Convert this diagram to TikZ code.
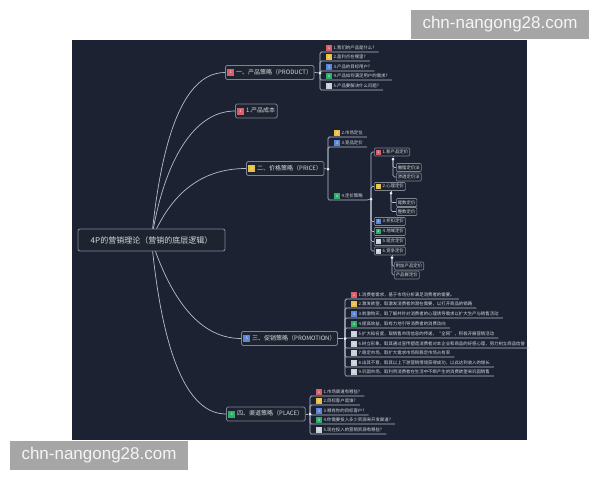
\documentclass[tikz,border=0pt]{standalone}
\usepackage{fontspec}
\setmainfont{Noto Sans CJK SC}
\newfontfamily\wmfont{Liberation Sans}
\usetikzlibrary{backgrounds}
\definecolor{bgc}{HTML}{1C2232}
\definecolor{nodefill}{HTML}{1E2330}
\definecolor{bord}{HTML}{7C8494}
\definecolor{linec}{HTML}{B4BFCE}
\definecolor{txt}{HTML}{D6D9DE}
\definecolor{icr}{HTML}{D9606A}
\definecolor{icy}{HTML}{E8C14A}
\definecolor{icb}{HTML}{5C86D6}
\definecolor{icg}{HTML}{2FB06A}
\definecolor{icw}{HTML}{C9D2DA}
\definecolor{wmgrey}{HTML}{A6A6A6}
\newcommand\ico[3]{{\setlength{\fboxsep}{0pt}\colorbox{#2}{\parbox[c][#1][c]{#1}{\centering\fontsize{3.4}{3.4}\selectfont\color{white}#3}}}\hspace{1.8pt}}
\tikzset{
  conn/.style={draw=linec, line width=0.7pt},
  rootbox/.style={draw=bord, fill=nodefill, rounded corners=2pt, line width=0.9pt, text=txt, font=\fontsize{8}{9}\selectfont, minimum width=147pt, minimum height=22pt, inner xsep=4pt},
  branchbox/.style={draw=bord, fill=nodefill, rounded corners=1.5pt, line width=0.8pt, text=txt, font=\fontsize{6}{7}\selectfont, minimum height=14pt, inner xsep=2pt, inner ysep=1pt, anchor=west},
  subbox/.style={draw=bord, fill=nodefill, rounded corners=1pt, line width=0.6pt, text=txt, font=\fontsize{4.4}{5}\selectfont, minimum height=8pt, inner xsep=1.5pt, inner ysep=0.8pt, anchor=west},
  leaf/.style={text=txt, font=\fontsize{4.4}{5}\selectfont, inner xsep=4pt, inner ysep=1.2pt, anchor=south west},
  knot/.style={circle, fill=white!85!linec, inner sep=0pt, minimum size=3pt},
  wm/.style={fill=wmgrey, text=white!96!black, font=\wmfont\fontsize{17}{17}\selectfont, minimum width=178pt, minimum height=29pt, inner sep=0pt},
  ub/.style={conn, rounded corners=1.5pt}
}
\begin{document}
\begin{tikzpicture}[x=1pt, y=-1pt]
\useasboundingbox (0,0) rectangle (600,480);
% ---------- nodes ----------
\node[rootbox] (root) at (151.5,240) {4P的营销理论（营销的底层逻辑）};
\node[branchbox] (b1) at (225,72.5) {\ico{7pt}{icr}{1}一、产品策略（PRODUCT）};
\node[branchbox] (bc) at (235,111) {\ico{7pt}{icr}{1}1.产品成本};
\node[branchbox] (b2) at (246,168.5) {\ico{7pt}{icy}{2}二、价格策略（PRICE）};
\node[branchbox] (b3) at (241,338.5) {\ico{7pt}{icb}{3}三、促销策略（PROMOTION）};
\node[branchbox] (b4) at (226,414) {\ico{7pt}{icg}{4}四、渠道策略（PLACE）};
% product leaves
\node[knot] (k1) at (320,73) {};
\node[leaf] (p1) at (322,52) {\ico{5.5pt}{icr}{1}1.我们的产品是什么?};
\node[leaf] (p2) at (322,61) {\ico{5.5pt}{icy}{2}2.盈利点在哪里?};
\node[leaf] (p3) at (322,71) {\ico{5.5pt}{icb}{3}3.产品的目标用户?};
\node[leaf] (p4) at (322,80) {\ico{5.5pt}{icg}{4}4.产品如何满足用户的需求?};
\node[leaf] (p5) at (322,90) {\ico{5.5pt}{icw}{5}5.产品要解决什么问题?};
% price leaves
\node[knot] (k2) at (328,169) {};
\node[leaf] (q2) at (330,137) {\ico{5.5pt}{icy}{2}2.市场定位};
\node[leaf] (q3) at (330,147) {\ico{5.5pt}{icb}{3}3.竞品定价};
\node[leaf] (q4) at (330,200) {\ico{5.5pt}{icg}{4}4.定价策略};
\node[knot] (k3) at (371,199) {};
\node[subbox] (s1) at (374,152) {\ico{5pt}{icr}{1}1.新产品定价};
\node[subbox] (s2) at (374,186.5) {\ico{5pt}{icy}{2}2.心理定价};
\node[subbox] (s3) at (374,221.5) {\ico{5pt}{icb}{3}3.折扣定价};
\node[subbox] (s4) at (374,231.5) {\ico{5pt}{icg}{4}4.地域定价};
\node[subbox] (s5) at (374,241.5) {\ico{5pt}{icw}{5}5.组合定价};
\node[subbox] (s6) at (374,251) {\ico{5pt}{icw}{6}6.竞争定价};
\node[knot] (k4) at (393,159) {};
\node[subbox] (t1) at (396,167.5) {撇脂定价法};
\node[subbox] (t2) at (396,177) {渗透定价法};
\node[knot] (k5) at (391,193) {};
\node[subbox] (t3) at (396,202.5) {尾数定价};
\node[subbox] (t4) at (396,211.5) {整数定价};
\node[knot] (k6) at (392,257.5) {};
\node[subbox] (t5) at (394,266) {附加产品定价};
\node[subbox] (t6) at (394,275) {产品群定价};
% promotion leaves
\node[knot] (k7) at (345,338.5) {};
\node[leaf] (r1) at (347,299) {\ico{5.5pt}{icr}{1}1.消费者需求，基于市场分析满足消费者的需要。};
\node[leaf] (r2) at (347,308) {\ico{5.5pt}{icy}{2}2.激发欲望，取激发消费者的潜在需要，以打开商品的销路};
\node[leaf] (r3) at (347,318) {\ico{5.5pt}{icb}{3}3.刺激购买，取了解并针对消费者的心理诱导需求以扩大生产与销售活动};
\node[leaf] (r4) at (347,328) {\ico{5.5pt}{icg}{4}4.提高效益，取有力地引导消费者的消费动向};
\node[leaf] (r5) at (347,338) {\ico{5.5pt}{icw}{5}5.扩大知名度，取销售市场信息的传递，“全网”，积极开展营销活动};
\node[leaf] (r6) at (347,348) {\ico{5.5pt}{icw}{6}6.树立形象，取其通过宣传塑造消费者对本企业和商品的好感心理，努力树立商品信誉};
\node[leaf] (r7) at (347,357) {\ico{5.5pt}{icw}{7}7.稳定市场，取扩大需求市场和稳定市场占有率};
\node[leaf] (r8) at (347,367) {\ico{5.5pt}{icw}{8}8.出其不意，取其以上下游营销情境获得成功，以此达到收入的增长};
\node[leaf] (r9) at (347,376) {\ico{5.5pt}{icw}{9}9.巩固市场，取利用消费者在生活中不断产生的消费欲望来巩固销售};
% place leaves
\node[knot] (k8) at (310,414) {};
\node[leaf] (l1) at (312,396) {\ico{5.5pt}{icr}{1}1.市场渠道有哪些?};
\node[leaf] (l2) at (312,405) {\ico{5.5pt}{icy}{2}2.目标客户是谁?};
\node[leaf] (l3) at (312,415) {\ico{5.5pt}{icb}{3}3.哪有你的目标客户?};
\node[leaf] (l4) at (312,424) {\ico{5.5pt}{icg}{4}4.你需要投入多少资源来开发渠道?};
\node[leaf] (l5) at (312,434) {\ico{5.5pt}{icw}{5}5.现在投入的营销资源有哪些?};
% watermarks
\node[wm] (w1) at (500,24.5) {chn-nangong28.com};
\node[wm] (w2) at (99,455) {chn-nangong28.com};
% ---------- background & connectors ----------
\begin{pgfonlayer}{background}
\fill[white] (0,0) rectangle (600,480);
\fill[bgc] (72,40) rectangle (527,440);
\draw[conn] (root.center) .. controls (160,150) and (180,72.5) .. (b1.west);
\draw[conn] (root.center) .. controls (162,170) and (190,111) .. (bc.west);
\draw[conn] (root.center) .. controls (170,195) and (200,168.5) .. (b2.west);
\draw[conn] (root.center) .. controls (168,290) and (195,338.5) .. (b3.west);
\draw[conn] (root.center) .. controls (160,330) and (180,414) .. (b4.west);
\draw[conn] (b1.east) -- (k1);
\foreach \n in {p1,p2,p3,p4,p5} \draw[ub] (k1.center) |- (\n.south west) -- (\n.south east);
\draw[conn] (b2.east) -- (k2);
\foreach \n in {q2,q3,q4} \draw[ub] (k2.center) |- (\n.south west) -- (\n.south east);
\draw[conn] (q4.south east) -- (k3);
\foreach \n in {s1,s2,s3,s4,s5,s6} \draw[ub] (k3.center) |- (\n.west);
\draw[conn] (s1.south -| k4) -- (k4);
\foreach \n in {t1,t2} \draw[ub] (k4.center) |- (\n.west);
\draw[conn] (s2.south -| k5) -- (k5);
\foreach \n in {t3,t4} \draw[ub] (k5.center) |- (\n.west);
\draw[conn] (s6.south -| k6) -- (k6);
\foreach \n in {t5,t6} \draw[ub] (k6.center) |- (\n.west);
\draw[conn] (b3.east) -- (k7);
\foreach \n in {r1,r2,r3,r4,r5,r6,r7,r8,r9} \draw[ub] (k7.center) |- (\n.south west) -- (\n.south east);
\draw[conn] (b4.east) -- (k8);
\foreach \n in {l1,l2,l3,l4,l5} \draw[ub] (k8.center) |- (\n.south west) -- (\n.south east);
\end{pgfonlayer}
\end{tikzpicture}
\end{document}
